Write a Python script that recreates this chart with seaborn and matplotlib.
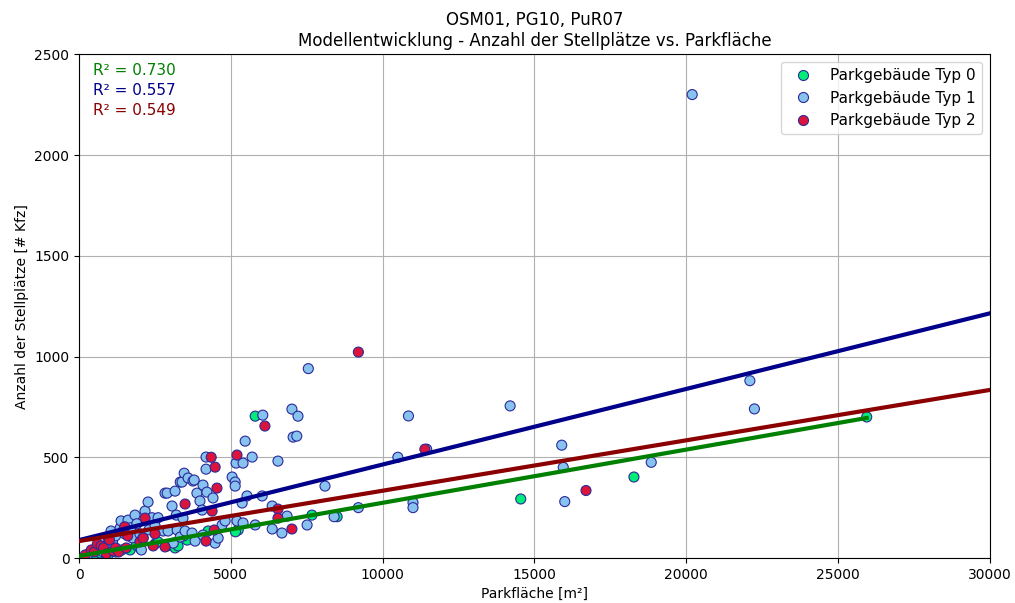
import numpy as np
import pandas as pd
import matplotlib
matplotlib.use("Agg")
import matplotlib.pyplot as plt
import seaborn as sns

# ---- data ----
typ0_x = [300, 500, 700, 955, 1200, 1400, 1680, 1880, 2000, 2500, 2600, 2900, 3160, 3260, 3560,
          3450, 4250, 5240, 5150, 5800, 7670, 8500, 14550, 18280, 25950]
typ0_y = [10, 20, 25, 15, 30, 40, 40, 64, 50, 70, 80, 60, 50, 60, 89,
          110, 134, 139, 130, 704, 213, 205, 293, 402, 700]

typ1_x = [300, 500, 600, 700, 800, 955, 1050, 1100, 1200, 1350, 1380, 1500, 1610, 1700, 1750,
          1840, 1900, 2000, 2050, 2100, 2170, 2270, 2300, 2400, 2500, 2600, 2770, 2830, 2900,
          2930, 3060, 3100, 3160, 3200, 3230, 3330, 3330, 3390, 3420, 3460, 3490, 3590, 3720,
          3750, 3790, 3820, 3880, 3980, 4050, 4080, 4080, 4180, 4180, 4210, 4410, 4480, 4580,
          4710, 4810, 5040, 5140, 5140, 5170, 5200, 5400, 5400, 5470, 5370, 5530, 5700, 5800,
          6030, 6050, 6360, 6360, 6550, 6680, 6850, 7010, 7050, 7170, 7210, 7510, 7550, 8100,
          8400, 9200, 10500, 10850, 11000, 11000, 11450, 14200, 15900, 15950, 16000, 18850,
          20200, 22100, 22250]
typ1_y = [20, 35, 50, 60, 30, 99, 134, 80, 110, 149, 184, 120, 188, 150, 100,
          213, 170, 120, 40, 100, 233, 278, 140, 200, 160, 200, 134, 322, 322,
          134, 258, 74, 332, 213, 139, 104, 377, 377, 198, 421, 134, 397, 124,
          382, 387, 84, 322, 283, 238, 114, 362, 501, 441, 327, 298, 74, 99,
          164, 184, 402, 377, 357, 471, 184, 174, 471, 580, 273, 308, 501, 164,
          308, 709, 258, 144, 481, 124, 208, 739, 600, 605, 704, 164, 940, 357,
          205, 250, 500, 705, 275, 250, 540, 755, 560, 450, 280, 475,
          2300, 880, 740]

typ2_x = [200, 400, 500, 600, 720, 800, 900, 1000, 1120, 1200, 1300, 1450, 1500, 1550, 1600,
          2000, 2110, 2170, 2440, 2500, 2830, 3490, 4180, 4380, 4450, 4540, 4350, 4480, 5200,
          6120, 6550, 6550, 7010, 9200, 11390, 16700]
typ2_y = [15, 40, 30, 70, 60, 50, 20, 90, 35, 50, 30, 134, 155, 50, 110,
          80, 99, 198, 60, 120, 55, 268, 84, 233, 139, 347, 500, 451, 511,
          655, 243, 198, 144, 1022, 540, 335]

categories = ["Parkgebäude Typ 0", "Parkgebäude Typ 1", "Parkgebäude Typ 2"]
point_colors = ["#00EE77", "#87C3EE", "#DC143C"]

# linear fits (intercept, slope, x-end) and R²
fit_intercept = [10, 89, 84]
fit_slope = [0.0264, 0.0375, 0.0250]
fit_x_end = [25950, 30000, 30000]
r2_values = [0.730, 0.557, 0.549]
line_colors = ["green", "darkblue", "darkred"]

# ---- build frame ----
df = pd.DataFrame({
    "x": typ0_x + typ1_x + typ2_x,
    "y": typ0_y + typ1_y + typ2_y,
    "typ": [categories[0]] * len(typ0_x) + [categories[1]] * len(typ1_x) + [categories[2]] * len(typ2_x),
})

fig, ax = plt.subplots(figsize=(10.15, 6.03), dpi=100)
fig.subplots_adjust(left=0.078, right=0.975, top=0.910, bottom=0.0746)

sns.scatterplot(data=df, x="x", y="y", hue="typ", hue_order=categories,
                palette=dict(zip(categories, point_colors)), s=52,
                edgecolor="#2a2a9a", linewidth=0.8, ax=ax, zorder=3)

for b0, b1, xe, c in zip(fit_intercept, fit_slope, fit_x_end, line_colors):
    xs = np.array([0, xe])
    ax.plot(xs, b0 + b1 * xs, color=c, linewidth=3, zorder=4)

for i, (r2, c) in enumerate(zip(r2_values, line_colors)):
    ax.text(0.015, 0.968 - i * 0.040, f"R² = {r2:.3f}", color=c, fontsize=11,
            transform=ax.transAxes, va="center", ha="left")

ax.set_xlim(0, 30000)
ax.set_ylim(0, 2500)
ax.set_xticks(np.arange(0, 30001, 5000))
ax.set_yticks(np.arange(0, 2501, 500))
ax.grid(True, color="#b0b0b0", linewidth=0.8, zorder=0)
ax.set_axisbelow(True)
ax.set_xlabel("Parkfläche [m²]")
ax.set_ylabel("Anzahl der Stellplätze [# Kfz]")
ax.set_title("OSM01, PG10, PuR07\nModellentwicklung - Anzahl der Stellplätze vs. Parkfläche", fontsize=12)

leg = ax.legend(loc="upper right", fontsize=11, title=None)
for h in leg.legend_handles:
    try:
        h.set_edgecolor("#2a2a9a")
    except Exception:
        pass

fig.savefig("out.png", dpi=100)
